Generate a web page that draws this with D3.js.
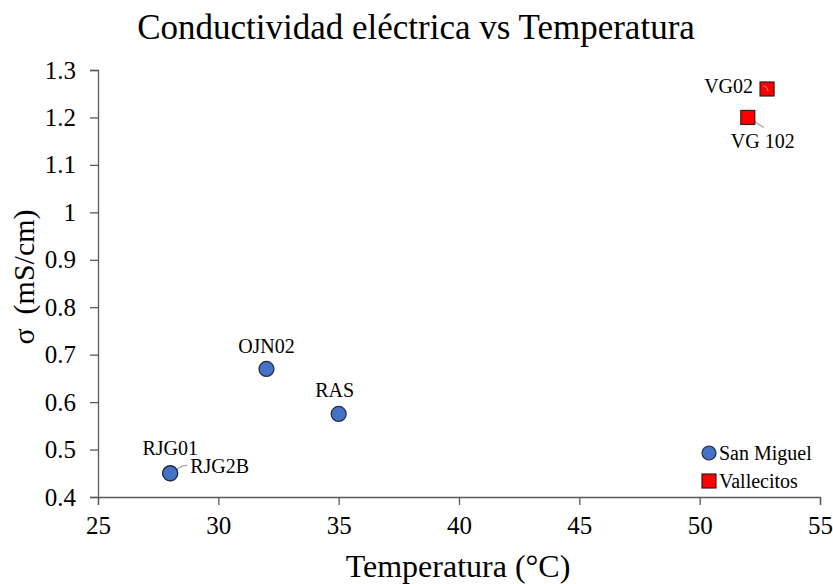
<!DOCTYPE html>
<html>
<head>
<meta charset="utf-8">
<script src="https://cdn.jsdelivr.net/npm/d3@7/dist/d3.min.js"></script>
<style>
  html, body { margin: 0; padding: 0; background: #fff; }
  svg text { font-family: "Liberation Serif", "Times New Roman", serif; fill: #000; }
</style>
</head>
<body>
<svg id="chart" width="833" height="584"></svg>
<script>
// Sampling sites: temperature (°C) and electrical conductivity (mS/cm)
const sanMiguelNames = ["RJG01", "RJG2B", "OJN02", "RAS"];
const sanMiguelTemp  = [28, 28, 32, 35];
const sanMiguelCond  = [0.45, 0.45, 0.67, 0.575];

const vallecitosNames = ["VG02", "VG 102"];
const vallecitosTemp  = [52.8, 52];
const vallecitosCond  = [1.26, 1.2];

const xTicks = [25, 30, 35, 40, 45, 50, 55];
const yTicks = [0.4, 0.5, 0.6, 0.7, 0.8, 0.9, 1, 1.1, 1.2, 1.3];

const serif = '"Liberation Serif", "Times New Roman", serif';
const svg = d3.select("#chart");
const axisColor = "#595959";

const x = d3.scaleLinear().domain([25, 55]).range([98, 820]);
const y = d3.scaleLinear().domain([0.4, 1.3]).range([497, 70]);

// Title
svg.append("text")
  .attr("x", 416).attr("y", 39)
  .attr("text-anchor", "middle")
  .style("font-size", "35px")
  .text("Conductividad eléctrica vs Temperatura");

// Axes
const xAxis = svg.append("g")
  .attr("transform", `translate(0,${y(0.4)})`)
  .call(d3.axisBottom(x).tickValues(xTicks).tickSizeOuter(0).tickSize(8).tickPadding(11)
    .tickFormat(d3.format("d")));
const yAxis = svg.append("g")
  .attr("transform", `translate(${x(25)},0)`)
  .call(d3.axisLeft(y).tickValues(yTicks).tickSizeOuter(0).tickSize(8).tickPadding(14)
    .tickFormat(d => String(d)));

[xAxis, yAxis].forEach(g => {
  g.attr("font-family", serif).attr("font-size", 25);
  g.select(".domain").attr("stroke", axisColor).attr("stroke-width", 1.3);
  g.selectAll(".tick line").attr("stroke", axisColor).attr("stroke-width", 1.3);
  g.selectAll(".tick text").attr("fill", "#000");
});

// Axis titles
svg.append("text")
  .attr("x", 458).attr("y", 577)
  .attr("text-anchor", "middle")
  .style("font-size", "32px")
  .text("Temperatura (°C)");
const yTitle = svg.append("text")
  .attr("transform", "translate(34,277) rotate(-90)")
  .attr("text-anchor", "middle")
  .style("font-size", "30px");
yTitle.append("tspan").text("σ");
yTitle.append("tspan").attr("dx", 14).text("(mS/cm)");

// Leader lines (drawn beneath markers)
const leader = svg.append("g").attr("stroke", "#a6a6a6").attr("stroke-width", 1.2).attr("fill", "none");
leader.append("path")
  .attr("d", `M${x(28)},${y(0.45)} L${x(28) + 10},${y(0.45) - 6} Q${x(28) + 12},${y(0.45) - 8} ${x(28) + 17},${y(0.45) - 8}`);
leader.append("path")
  .attr("d", `M${x(52)},${y(1.2)} L${x(52) + 16},${y(1.2) + 10}`);

// San Miguel markers
svg.append("g").selectAll("circle")
  .data(sanMiguelTemp.map((t, i) => ({ t, c: sanMiguelCond[i] })))
  .join("circle")
  .attr("cx", d => x(d.t)).attr("cy", d => y(d.c))
  .attr("r", 7.5)
  .attr("fill", "#4472C4").attr("stroke", "#1f2a44").attr("stroke-width", 1.2);

// Vallecitos markers
const sq = 14;
svg.append("g").selectAll("rect")
  .data(vallecitosTemp.map((t, i) => ({ t, c: vallecitosCond[i] })))
  .join("rect")
  .attr("x", d => x(d.t) - sq / 2).attr("y", d => y(d.c) - sq / 2)
  .attr("width", sq).attr("height", sq)
  .attr("fill", "#FF0000").attr("stroke", "#3a1a1a").attr("stroke-width", 1.2);

// short curved leader inside the VG02 square
svg.append("path")
  .attr("d", `M${x(52.8) - 4},${y(1.26) - 3} Q${x(52.8)},${y(1.26) - 3} ${x(52.8) + 1},${y(1.26) + 2}`)
  .attr("stroke", "#d9a0a0").attr("stroke-width", 1).attr("fill", "none");

// Point labels
const labels = [
  { text: sanMiguelNames[0], t: sanMiguelTemp[0], c: sanMiguelCond[0], dx: 0, dy: -25, anchor: "middle" },
  { text: sanMiguelNames[1], t: sanMiguelTemp[1], c: sanMiguelCond[1], dx: 20, dy: -7, anchor: "start" },
  { text: sanMiguelNames[2], t: sanMiguelTemp[2], c: sanMiguelCond[2], dx: 0, dy: -23, anchor: "middle" },
  { text: sanMiguelNames[3], t: sanMiguelTemp[3], c: sanMiguelCond[3], dx: -4, dy: -24, anchor: "middle" },
  { text: vallecitosNames[0], t: vallecitosTemp[0], c: vallecitosCond[0], dx: -14, dy: -3, anchor: "end" },
  { text: vallecitosNames[1], t: vallecitosTemp[1], c: vallecitosCond[1], dx: 15, dy: 24, anchor: "middle" }
];
svg.append("g").selectAll("text")
  .data(labels)
  .join("text")
  .attr("x", d => x(d.t) + d.dx).attr("y", d => y(d.c) + d.dy)
  .attr("text-anchor", d => d.anchor)
  .attr("dy", "0.35em")
  .style("font-size", "20px")
  .text(d => d.text);

// Legend
const legend = svg.append("g").attr("transform", "translate(709,453)");
legend.append("circle").attr("cx", 0).attr("cy", 0).attr("r", 7)
  .attr("fill", "#4472C4").attr("stroke", "#1f2a44").attr("stroke-width", 1.2);
legend.append("text").attr("x", 10).attr("y", 0).attr("dy", "0.35em")
  .style("font-size", "20px").text("San Miguel");
legend.append("rect").attr("x", -7).attr("y", 21).attr("width", 14).attr("height", 14)
  .attr("fill", "#FF0000").attr("stroke", "#3a1a1a").attr("stroke-width", 1.2);
legend.append("text").attr("x", 10).attr("y", 28).attr("dy", "0.35em")
  .style("font-size", "20px").text("Vallecitos");
</script>
</body>
</html>
